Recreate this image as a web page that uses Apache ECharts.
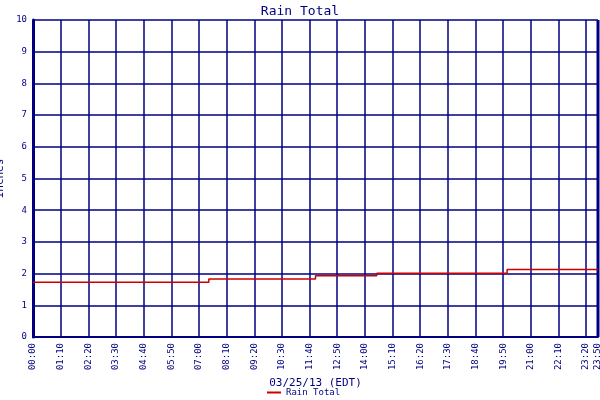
<!DOCTYPE html><html><head><meta charset="utf-8"><script src="https://cdn.jsdelivr.net/npm/echarts@6/dist/echarts.min.js"></script></head><body style="margin:0"><div id="c" style="width:600px;height:400px"></div><script>
const times=[0,445,715,870,1200,1430];
const values=[1.73,1.83,1.93,2.01,2.13,2.13];
const yTicks=[0,1,2,3,4,5,6,7,8,9,10];
function fmt(m){const h=Math.floor(m/60),mm=m%60;return String(h).padStart(2,'0')+':'+String(mm).padStart(2,'0');}
const blue='#000080',f='DejaVu Sans Mono';
const c=echarts.init(document.getElementById('c'));
c.setOption({animation:false,backgroundColor:'#fff',
title:{text:'Rain Total',left:'center',top:0,textStyle:{color:blue,fontFamily:f,fontSize:13,fontWeight:'normal'}},
legend:{bottom:-2,left:262,itemWidth:14,itemHeight:2,icon:'rect',textStyle:{color:blue,fontFamily:f,fontSize:9},data:['Rain Total']},
grid:{left:33,right:2,top:20,bottom:63,containLabel:false,outerBoundsMode:'none'},
xAxis:{type:'value',min:0,max:1430,interval:70,name:'03/25/13 (EDT)',nameLocation:'middle',nameGap:41,nameTextStyle:{color:blue,fontFamily:f,fontSize:11},
axisLine:{lineStyle:{color:blue,width:2}},axisTick:{show:false},
axisLabel:{rotate:90,color:blue,fontFamily:f,fontSize:9,margin:6,showMaxLabel:true,hideOverlap:false,formatter:v=>fmt(v)},
splitLine:{lineStyle:{color:blue,width:1.5}}},
yAxis:{type:'value',min:0,max:10,interval:1,name:'Inches',nameLocation:'middle',nameGap:24,nameTextStyle:{color:blue,fontFamily:f,fontSize:11},
axisLine:{show:true,lineStyle:{color:blue,width:3}},axisTick:{show:false},
axisLabel:{color:blue,fontFamily:f,fontSize:9,margin:6,formatter:v=>yTicks.includes(v)?String(v):''},
splitLine:{lineStyle:{color:blue,width:1.5}}},
series:[{name:'Rain Total',type:'line',step:'end',symbol:'none',data:times.map((t,i)=>[t,values[i]]),lineStyle:{color:'#cc0000',width:1.5},itemStyle:{color:'#cc0000'}}],
graphic:[{type:'line',shape:{x1:598,y1:20,x2:598,y2:337},style:{stroke:blue,lineWidth:3}}]
});
</script></body></html>
